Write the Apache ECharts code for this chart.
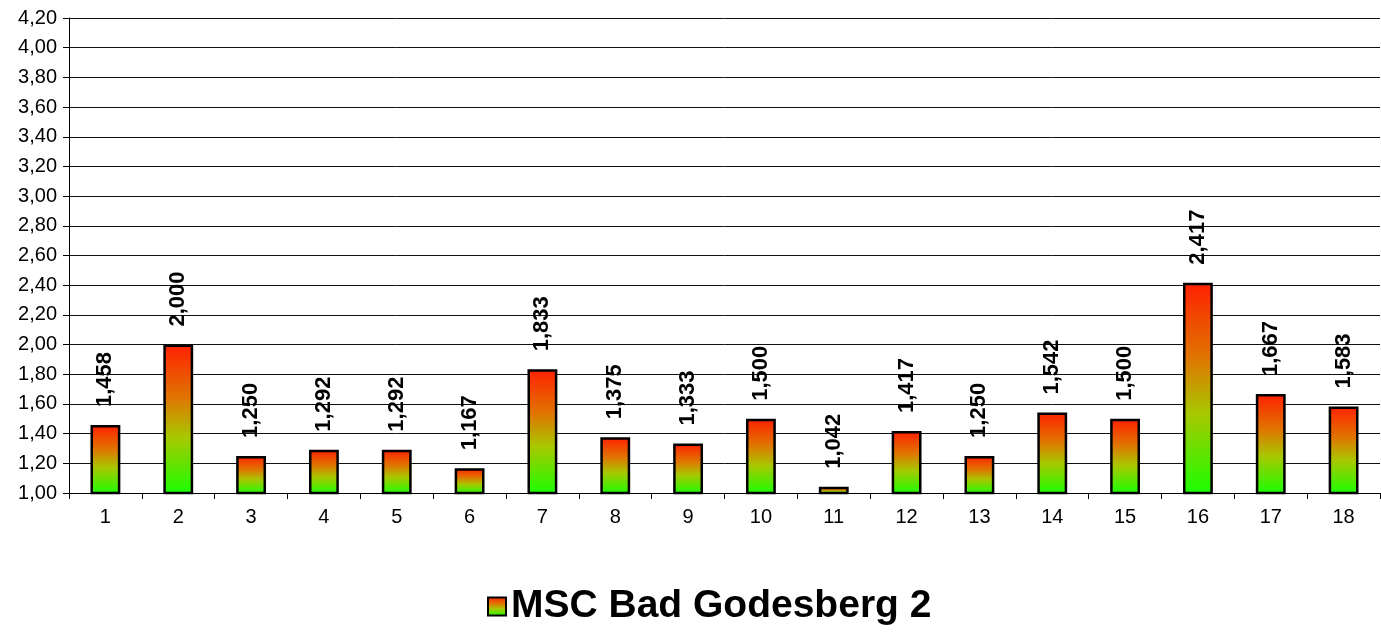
<!DOCTYPE html>
<html>
<head>
<meta charset="utf-8">
<script src="https://cdn.jsdelivr.net/npm/echarts@6/dist/echarts.min.js"></script>
<style>
html,body{margin:0;padding:0;background:#fff;}
#c{width:1381px;height:636px;}
</style>
</head>
<body>
<div id="c"></div>
<script>
const categories = ['1','2','3','4','5','6','7','8','9','10','11','12','13','14','15','16','17','18'];
const seriesName = 'MSC Bad Godesberg 2';
const values = [1.458, 2.000, 1.250, 1.292, 1.292, 1.167, 1.833, 1.375, 1.333, 1.500, 1.042, 1.417, 1.250, 1.542, 1.500, 2.417, 1.667, 1.583];
const yMin = 1.0, yMax = 4.2, yStep = 0.2;

const grad = new echarts.graphic.LinearGradient(0, 0, 0, 1, [
  {offset: 0, color: '#ff2000'},
  {offset: 0.35, color: '#e07400'},
  {offset: 0.62, color: '#a8c800'},
  {offset: 1, color: '#18ff00'}
]);

const chart = echarts.init(document.getElementById('c'));
chart.setOption({
  animation: false,
  textStyle: {fontFamily: 'Liberation Sans, Arial, sans-serif'},
  grid: {left: 69, right: 1, top: 18, bottom: 143, containLabel: false},
  legend: {
    bottom: 5,
    left: 482,
    itemWidth: 18,
    itemHeight: 18,
    itemGap: 6,
    textStyle: {fontSize: 39, fontWeight: 'bold', color: '#000', fontFamily: 'Liberation Sans, Arial, sans-serif'},
    data: [{name: seriesName, icon: 'rect', itemStyle: {borderColor: '#000', borderWidth: 2}}]
  },
  xAxis: {
    type: 'category',
    data: categories,
    axisLine: {lineStyle: {color: '#000', width: 1}},
    axisTick: {show: true, length: 6, lineStyle: {color: '#000'}},
    axisLabel: {fontSize: 20, color: '#000', margin: 14}
  },
  yAxis: {
    type: 'value',
    min: yMin, max: yMax, interval: yStep,
    axisLine: {show: true, lineStyle: {color: '#000', width: 1}},
    axisTick: {show: true, length: 6, lineStyle: {color: '#000'}},
    axisLabel: {fontSize: 20, color: '#000', margin: 12,
      formatter: v => v.toFixed(2).replace('.', ',')},
    splitLine: {show: true, lineStyle: {color: '#111', width: 1}}
  },
  series: [{
    name: seriesName,
    type: 'bar',
    data: values,
    barWidth: '41%',
    itemStyle: {color: grad, borderColor: '#000', borderWidth: 2.5},
    label: {
      show: true,
      position: 'top',
      rotate: 90,
      align: 'left',
      verticalAlign: 'middle',
      distance: 18,
      fontSize: 22,
      fontWeight: 'bold',
      color: '#000',
      formatter: p => p.value.toFixed(3).replace('.', ',')
    }
  }]
});
</script>
</body>
</html>
